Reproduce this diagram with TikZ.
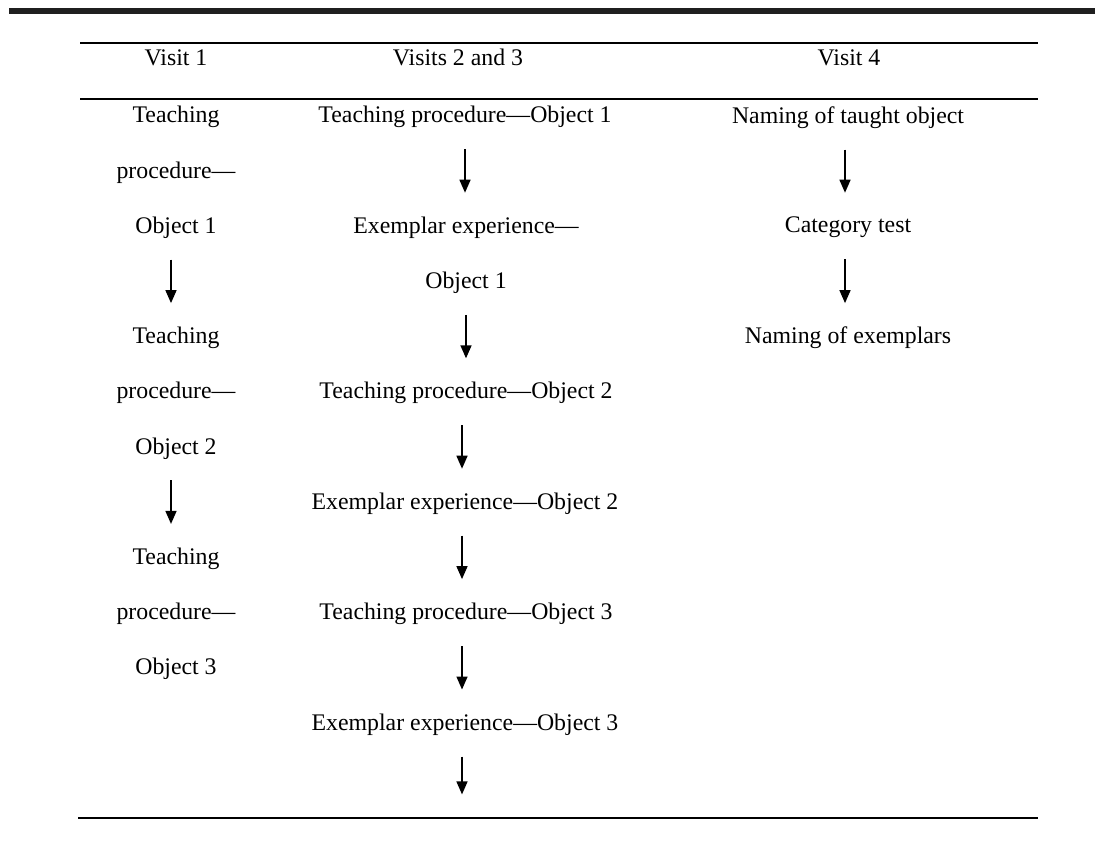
\documentclass[tikz,border=0pt]{standalone}
\usepackage{fontspec}
\setmainfont{Liberation Serif}
\usetikzlibrary{arrows.meta}

\begin{document}
\begin{tikzpicture}[x=0.5pt, y=-0.5pt,
    >={Triangle[length=6.5pt,width=5.5pt]},
    font=\fontsize{11.9}{27.6}\selectfont,
    cell/.style={anchor=north, inner sep=0pt, align=center},
    head/.style={anchor=base, inner sep=0pt},
    flow/.style={->, line width=0.75pt, shorten <=10.5pt, shorten >=11.8pt},
    rule/.style={line width=0.75pt}]

    \useasboundingbox (0,0) rectangle (1095,847);

    % --- rules ---
    \fill[black!88] (9,8) rectangle (1095,14);
    \draw[rule] (80,43) -- (1038,43);
    \draw[rule] (80,99) -- (1038,99);
    \draw[rule] (78,818) -- (1038,818);

    % --- headers ---
    \node[head] (h1) at (176,65) {Visit 1};
    \node[head] (h2) at (458,65) {Visits 2 and 3};
    \node[head] (h3) at (849,65) {Visit 4};

    % --- visit 1 ---
    \node[cell] (a1) at (176,105.9) {Teaching\\procedure---\\Object 1};
    \node[cell] (a2) at (176,326.7) {Teaching\\procedure---\\Object 2};
    \node[cell] (a3) at (176,547.5) {Teaching\\procedure---\\Object 3};

    \draw[flow] ([xshift=-2.5pt]a1.south) -- ([xshift=-2.5pt]a1.south |- a2.north);
    \draw[flow] ([xshift=-2.5pt]a2.south) -- ([xshift=-2.5pt]a2.south |- a3.north);

    % --- visits 2 and 3 ---
    \node[cell] (b1) at (465,105.9) {Teaching procedure---Object 1};
    \node[cell] (b2) at (466,216.3) {Exemplar experience---\\Object 1};
    \node[cell] (b3) at (466,381.9) {Teaching procedure---Object 2};
    \node[cell] (b4) at (465,492.3) {Exemplar experience---Object 2};
    \node[cell] (b5) at (466,602.7) {Teaching procedure---Object 3};
    \node[cell] (b6) at (465,713.1) {Exemplar experience---Object 3};
    \coordinate (bend) at (462,818);

    \draw[flow] (b1.south) -- (b1.south |- b2.north);
    \draw[flow] (b2.south) -- (b2.south |- b3.north);
    \draw[flow] ([xshift=-2pt]b3.south) -- ([xshift=-2pt]b3.south |- b4.north);
    \draw[flow] ([xshift=-1.5pt]b4.south) -- ([xshift=-1.5pt]b4.south |- b5.north);
    \draw[flow] ([xshift=-2pt]b5.south) -- ([xshift=-2pt]b5.south |- b6.north);
    \draw[flow] ([xshift=-1.5pt]b6.south) -- ([xshift=-1.5pt]b6.south |- bend);

    % --- visit 4 ---
    \node[cell] (c1) at (848,105.9) {Naming of taught object};
    \node[cell] (c2) at (848,216.3) {Category test};
    \node[cell] (c3) at (848,326.7) {Naming of exemplars};

    \draw[flow] ([xshift=-1.5pt]c1.south) -- ([xshift=-1.5pt]c1.south |- c2.north);
    \draw[flow] ([xshift=-1.5pt]c2.south) -- ([xshift=-1.5pt]c2.south |- c3.north);

\end{tikzpicture}
\end{document}
